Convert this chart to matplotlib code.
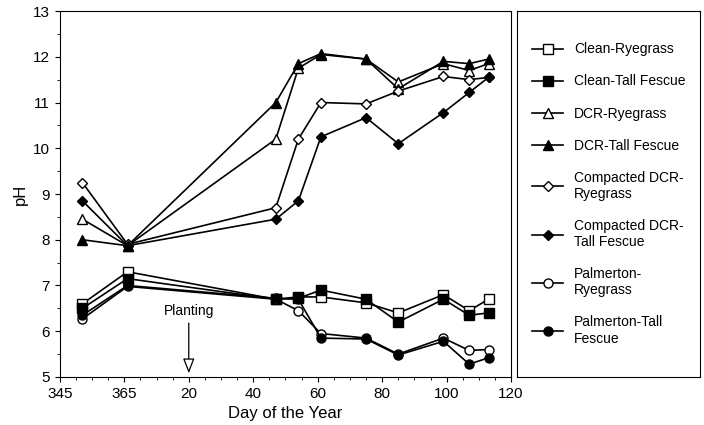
import matplotlib.pyplot as plt
from matplotlib.lines import Line2D

plt.rcParams['font.family'] = ['Liberation Sans', 'DejaVu Sans']

# days shifted so Jan 1 = 1 and Dec days are negative
days = [-13, 1, 47, 54, 61, 75, 85, 99, 107, 113]
series = {
    "Clean-Ryegrass": ([6.6, 7.3, 6.7, 6.75, 6.75, 6.62, 6.4, 6.8, 6.45, 6.7], "s", "white"),
    "Clean-Tall Fescue": ([6.5, 7.15, 6.7, 6.72, 6.9, 6.7, 6.2, 6.7, 6.35, 6.4], "s", "black"),
    "DCR-Ryegrass": ([8.45, 7.87, 10.2, 11.75, 12.05, 11.95, 11.45, 11.85, 11.7, 11.85], "^", "white"),
    "DCR-Tall Fescue": ([8.0, 7.87, 11.0, 11.85, 12.07, 11.95, 11.3, 11.9, 11.85, 11.95], "^", "black"),
    "Compacted DCR-\nRyegrass": ([9.25, 7.9, 8.7, 10.2, 11.0, 10.97, 11.25, 11.57, 11.5, 11.55], "D", "white"),
    "Compacted DCR-\nTall Fescue": ([8.85, 7.87, 8.45, 8.85, 10.25, 10.67, 10.1, 10.78, 11.22, 11.55], "D", "black"),
    "Palmerton-\nRyegrass": ([6.27, 6.98, 6.7, 6.45, 5.95, 5.85, 5.5, 5.85, 5.58, 5.6], "o", "white"),
    "Palmerton-Tall\nFescue": ([6.35, 7.0, 6.72, 6.7, 5.85, 5.83, 5.48, 5.78, 5.28, 5.42], "o", "black"),
}
xtick_pos = [-20, 0, 20, 40, 60, 80, 100, 120]
xtick_labels = ["345", "365", "20", "40", "60", "80", "100", "120"]

fig = plt.figure(figsize=(7.04, 4.25), dpi=100)
ax = fig.add_axes([0.085, 0.113, 0.641, 0.861])

handles = []
for name, (vals, mk, fc) in series.items():
    ms = 5 if mk == "D" else 6.5
    ax.plot(days, vals, color="black", lw=1.2, marker=mk, mfc=fc, mec="black", ms=ms)
    handles.append(Line2D([], [], color="black", lw=1.2, marker=mk, mfc=fc, mec="black", ms=ms))

ax.annotate("Planting", xy=(20, 5.02), xytext=(20, 6.3), ha="center", va="bottom", fontsize=10,
            arrowprops=dict(arrowstyle="-|>,head_width=0.35,head_length=0.9",
                            color="black", fc="white", lw=0.9))

ax.set_xlim(-20, 120)
ax.set_ylim(5, 13)
ax.set_xticks(xtick_pos)
ax.set_xticklabels(xtick_labels, fontsize=11)
ax.set_xticks(range(-20, 121, 5), minor=True)
ax.set_yticks(range(5, 14))
ax.set_yticks([5.5 + i for i in range(8)], minor=True)
ax.tick_params(labelsize=11, direction="out")
ax.set_xlabel("Day of the Year", fontsize=12)
ax.set_ylabel("pH", fontsize=12)

lax = fig.add_axes([0.735, 0.113, 0.26, 0.861])
lax.set_xticks([])
lax.set_yticks([])
lax.legend(handles, list(series.keys()), loc="center", frameon=False, fontsize=10,
           labelspacing=1.3, handlelength=2.2)

fig.savefig("out.png", dpi=100)
